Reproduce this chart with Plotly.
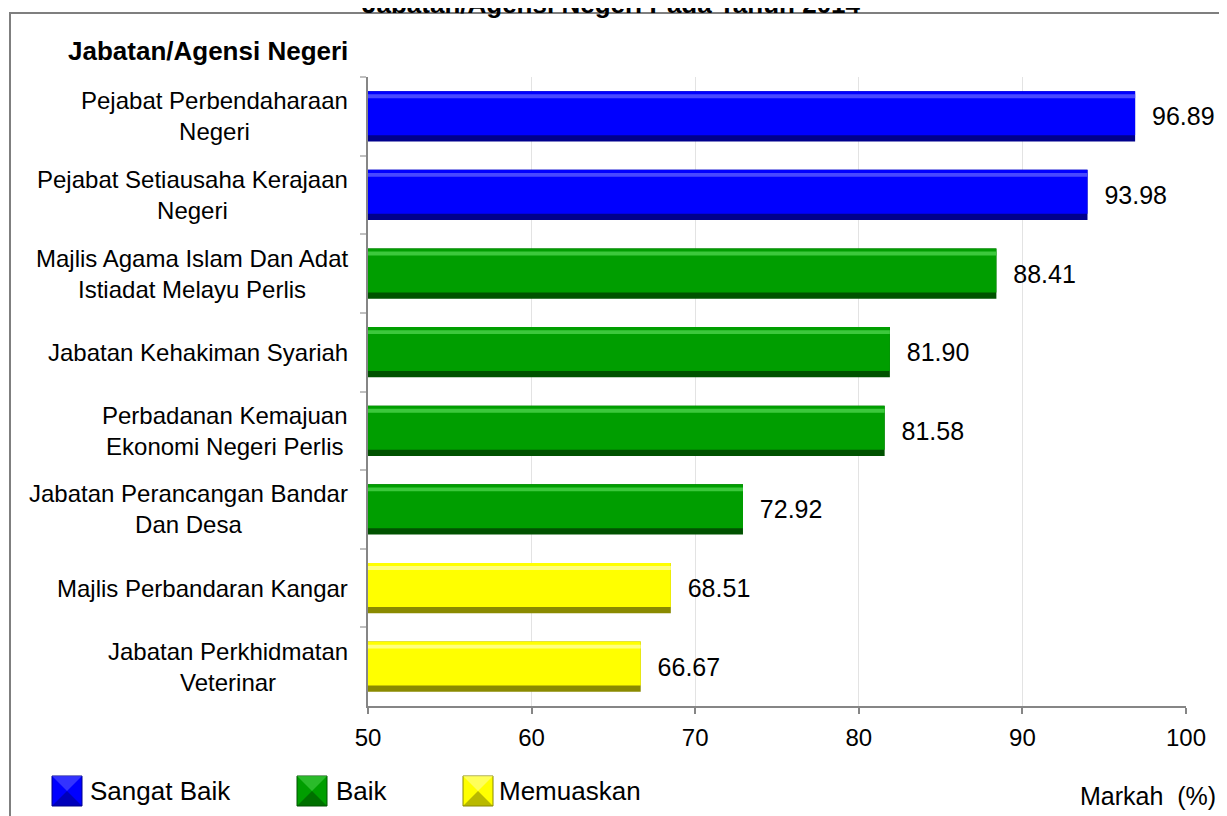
import plotly.graph_objects as go

agensi = [
    "Pejabat Perbendaharaan<br>Negeri",
    "Pejabat Setiausaha Kerajaan<br>Negeri",
    "Majlis Agama Islam Dan Adat<br>Istiadat Melayu Perlis",
    "Jabatan Kehakiman Syariah",
    "Perbadanan Kemajuan<br>Ekonomi Negeri Perlis",
    "Jabatan Perancangan Bandar<br>Dan Desa",
    "Majlis Perbandaran Kangar",
    "Jabatan Perkhidmatan<br>Veterinar",
]
markah = [96.89, 93.98, 88.41, 81.90, 81.58, 72.92, 68.51, 66.67]
tahap = ["Sangat Baik", "Sangat Baik", "Baik", "Baik", "Baik", "Baik",
         "Memuaskan", "Memuaskan"]

kategori = ["Sangat Baik", "Baik", "Memuaskan"]
warna_utama = {"Sangat Baik": "#0000FF", "Baik": "#009E00", "Memuaskan": "#FFFF00"}
warna_gelap = {"Sangat Baik": "#00008C", "Baik": "#005200", "Memuaskan": "#8A8A00"}
warna_cerah = {"Sangat Baik": "#4848FF", "Baik": "#3CC83C", "Memuaskan": "#FFFF80"}

FONT = "Liberation Sans, Arial, sans-serif"
# halaman ada margin 8px, jadi rajah dikecilkan sedikit
OFS = 8
W, H = 1227 - OFS, 816 - OFS
PX0, PX1, PY0, PY1 = 368, 1186, 77, 706   # kawasan plot (koordinat gambar rujukan)
L, T = PX0 - OFS, PY0 - OFS
R, B = W - (PX1 - OFS), H - (PY1 - OFS)
pw, ph = PX1 - PX0, PY1 - PY0


def px_x(p):
    return (p - PX0) / pw


def px_y(p):
    return (PY1 - p) / ph


fig = go.Figure()

# lapisan bevel: gelap (penuh), utama, jalur cerah
fig.add_trace(go.Bar(
    x=markah, y=agensi, orientation="h",
    width=0.64, offset=-0.32,
    marker=dict(color=[warna_gelap[t] for t in tahap], line=dict(width=0)),
    text=[f"{v:.2f}" for v in markah], texttemplate="  %{text}",
    textposition="outside", textfont=dict(size=25, color="black", family=FONT),
    cliponaxis=False, constraintext="none", showlegend=False, hoverinfo="skip",
))
fig.add_trace(go.Bar(
    x=markah, y=agensi, orientation="h",
    width=0.56, offset=-0.32,
    marker=dict(color=[warna_utama[t] for t in tahap], line=dict(width=0)),
    showlegend=False, hoverinfo="skip",
))
fig.add_trace(go.Bar(
    x=markah, y=agensi, orientation="h",
    width=0.05, offset=-0.28,
    marker=dict(color=[warna_cerah[t] for t in tahap], line=dict(width=0)),
    showlegend=False, hoverinfo="skip",
))

annotations = []
for a in agensi:
    annotations.append(dict(
        x=0, xref="paper", y=a, yref="y", text=a, showarrow=False,
        xanchor="right", align="center", xshift=-18,
        font=dict(size=24, color="black", family=FONT),
    ))

annotations += [
    dict(x=px_x(611), y=px_y(4), xref="paper", yref="paper",
         text="<b>Jabatan/Agensi Negeri Pada Tahun 2014</b>", showarrow=False,
         xanchor="center", yanchor="middle",
         font=dict(size=26, color="black", family=FONT)),
    dict(x=px_x(66), y=px_y(51), xref="paper", yref="paper",
         text="<b>Jabatan/Agensi Negeri</b>", showarrow=False,
         xanchor="left", yanchor="middle",
         font=dict(size=26, color="black", family=FONT)),
    dict(x=px_x(1218), y=px_y(796), xref="paper", yref="paper",
         text="Markah\u00a0 (%)", showarrow=False,
         xanchor="right", yanchor="middle",
         font=dict(size=25, color="black", family=FONT)),
]

shapes = [
    dict(type="rect", xref="paper", yref="paper",
         x0=px_x(10), x1=px_x(1240), y0=px_y(13), y1=px_y(830),
         line=dict(color="#7F7F7F", width=2), fillcolor="rgba(0,0,0,0)",
         layer="below"),
]

# legenda manual
kotak_x = {"Sangat Baik": 52, "Baik": 297, "Memuaskan": 463}
teks_x = {"Sangat Baik": 88, "Baik": 334, "Memuaskan": 497}
for k in kategori:
    x0 = kotak_x[k]
    shapes.append(dict(type="rect", xref="paper", yref="paper",
                       x0=px_x(x0), x1=px_x(x0 + 30), y0=px_y(806), y1=px_y(776),
                       fillcolor=warna_utama[k], line=dict(color=warna_gelap[k], width=1)))
    shapes.append(dict(type="path", xref="paper", yref="paper",
                       path=(f"M {px_x(x0)},{px_y(806)} L {px_x(x0 + 30)},{px_y(806)} "
                             f"L {px_x(x0 + 15)},{px_y(791)} Z"),
                       fillcolor=warna_gelap[k], opacity=0.6, line=dict(width=0)))
    shapes.append(dict(type="path", xref="paper", yref="paper",
                       path=(f"M {px_x(x0)},{px_y(776)} L {px_x(x0 + 30)},{px_y(776)} "
                             f"L {px_x(x0 + 15)},{px_y(791)} Z"),
                       fillcolor=warna_cerah[k], opacity=0.7, line=dict(width=0)))
    annotations.append(dict(x=px_x(teks_x[k]), y=px_y(791), xref="paper", yref="paper",
                            text=k, showarrow=False, xanchor="left", yanchor="middle",
                            font=dict(size=26, color="black", family=FONT)))

fig.update_layout(
    width=W, height=H,
    margin=dict(l=L, r=R, t=T, b=B),
    paper_bgcolor="white", plot_bgcolor="white",
    barmode="overlay",
    font=dict(family=FONT, color="black"),
    annotations=annotations,
    shapes=shapes,
)
fig.update_xaxes(
    range=[50, 100], dtick=10, showgrid=True, gridcolor="#E3E3E3", gridwidth=1,
    showline=True, linecolor="#868686", linewidth=2,
    ticks="outside", ticklen=6, tickcolor="#868686", tickwidth=2,
    tickfont=dict(size=24, color="black", family=FONT), ticklabelstandoff=3,
    zeroline=False,
)
fig.update_yaxes(
    autorange="reversed", showticklabels=False, showgrid=False,
    showline=True, linecolor="#868686", linewidth=2,
    ticks="outside", ticklen=6, tickcolor="#C0C0C0", tickwidth=2,
    tickson="boundaries",
)

fig.write_html("out.html")
